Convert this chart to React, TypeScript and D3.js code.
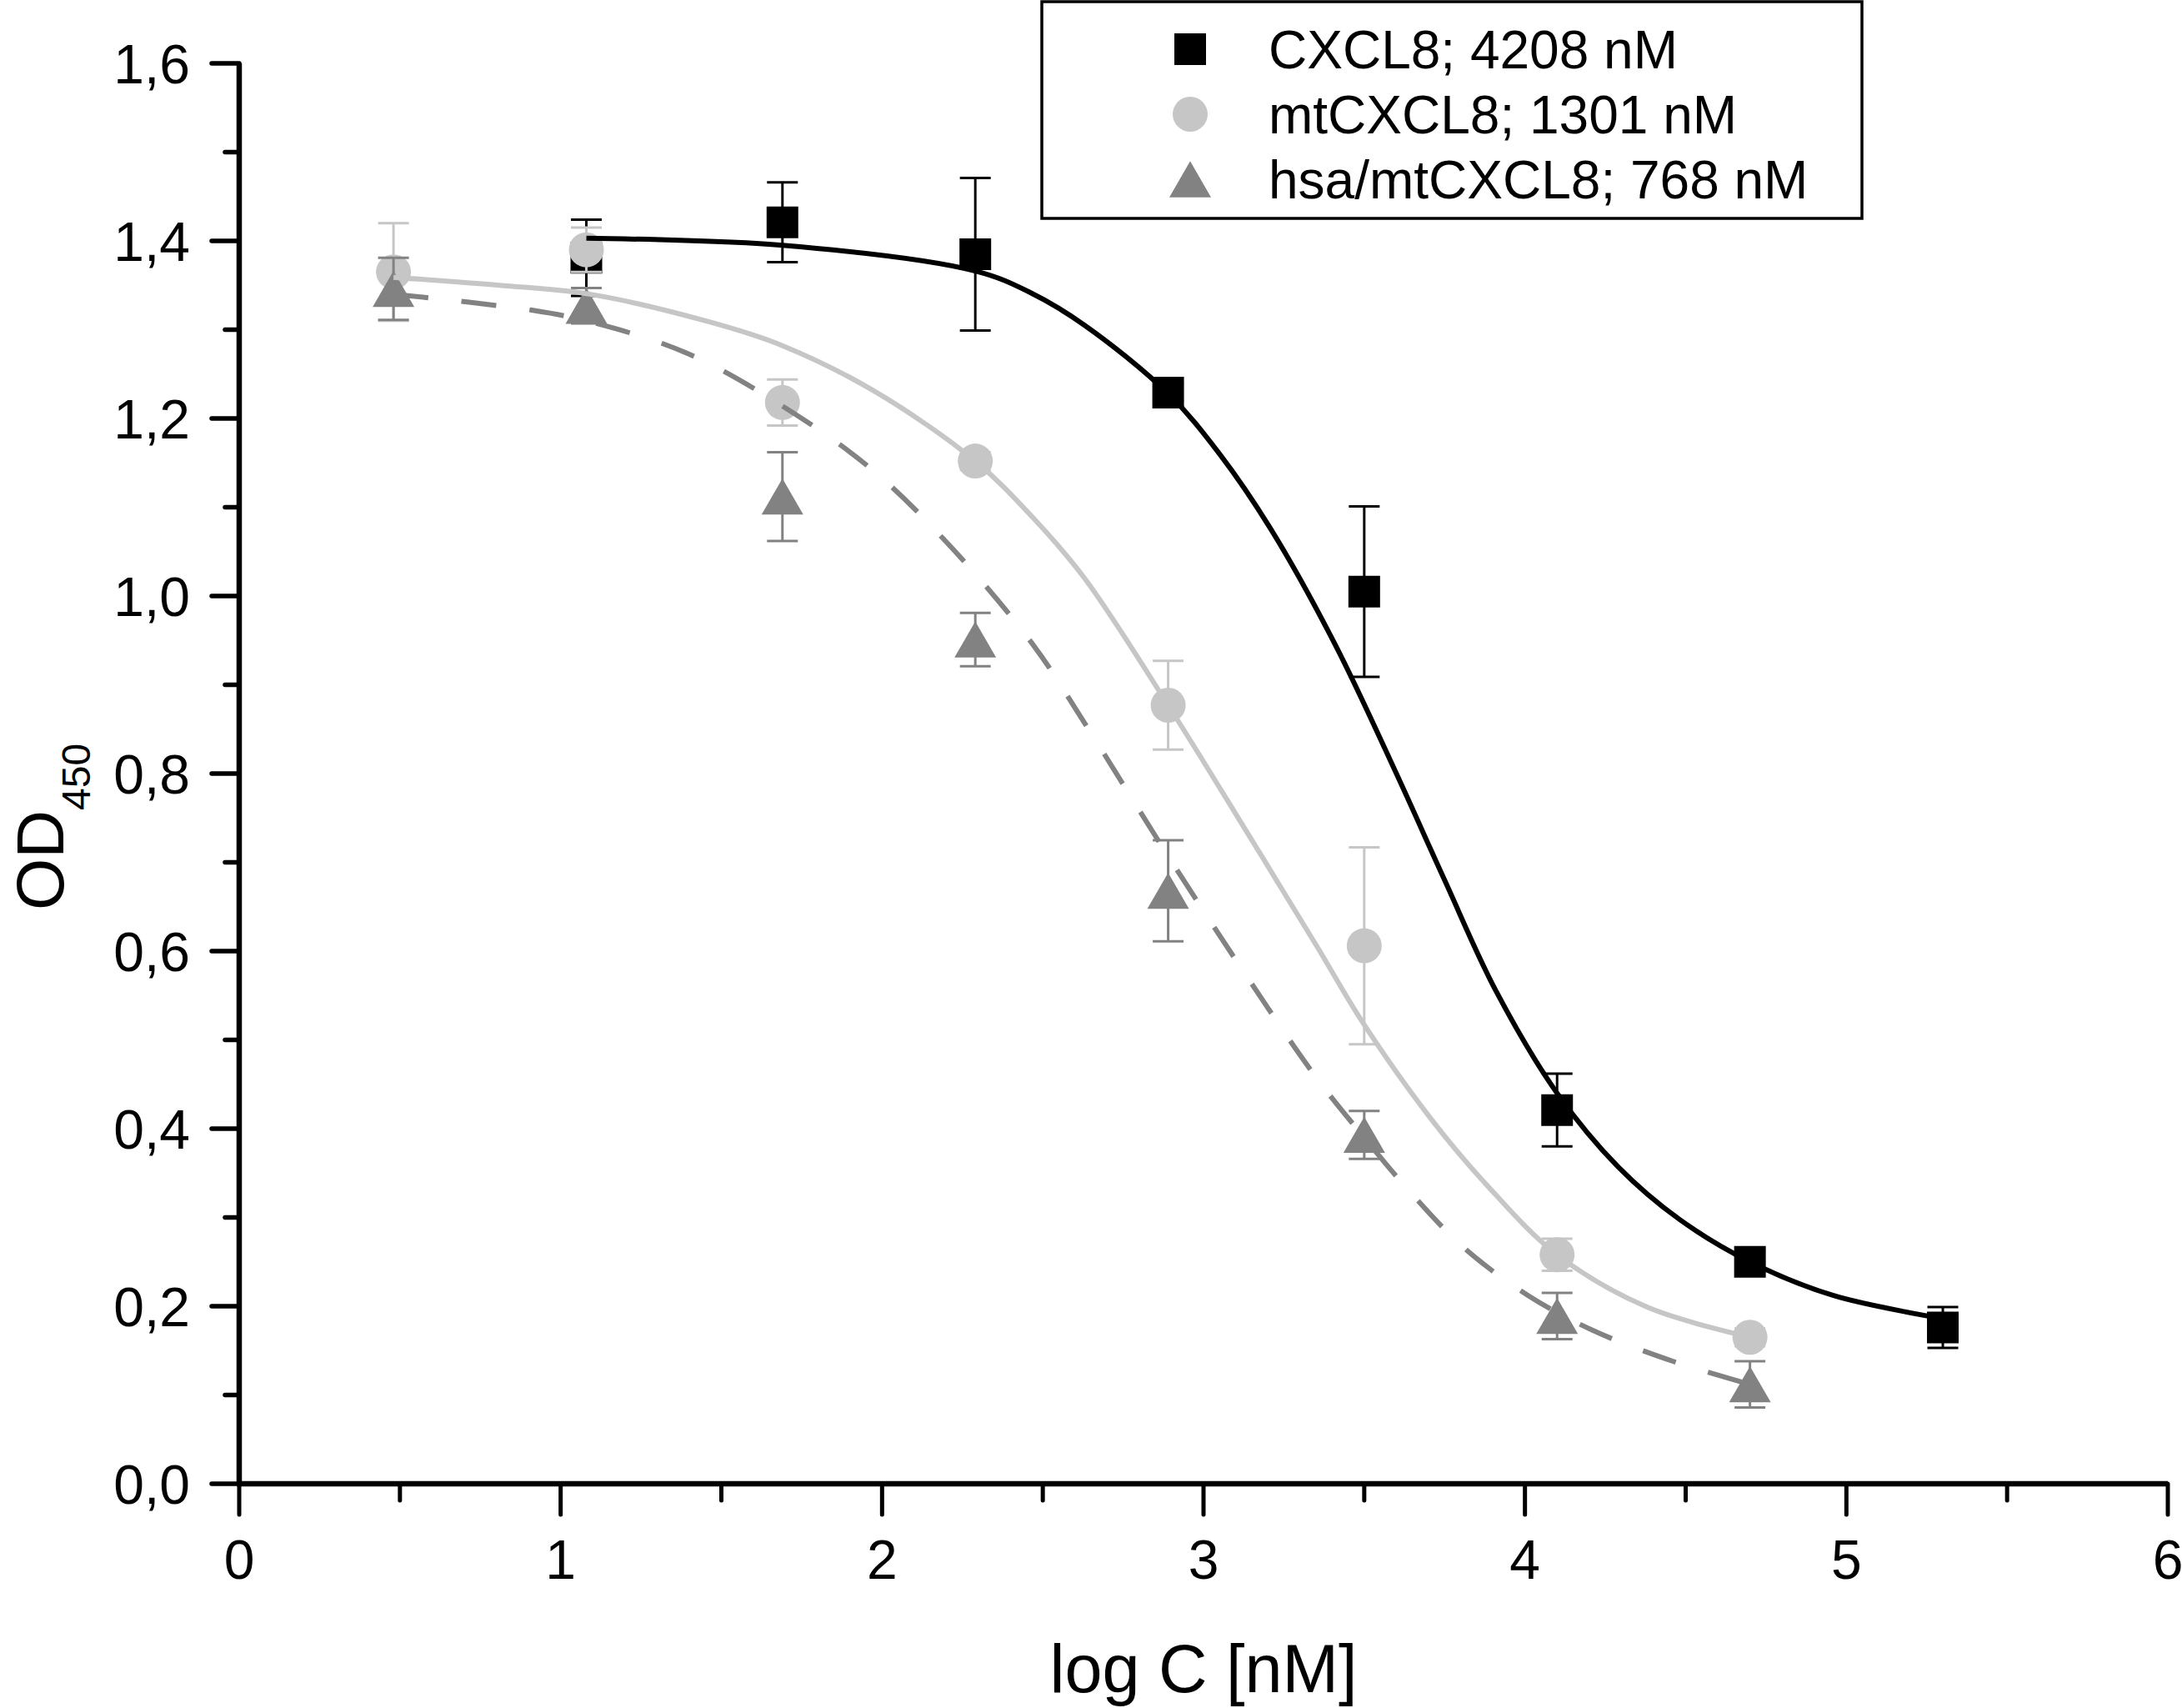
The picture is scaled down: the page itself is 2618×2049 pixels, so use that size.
import React from "react";
import * as d3 from "d3";

// ---- Data ----
const cxcl8X = [1.08, 1.69, 2.29, 2.89, 3.5, 4.1, 4.7, 5.3];
const cxcl8Y = [1.381, 1.421, 1.385, 1.229, 1.005, 0.421, 0.25, 0.176];
const cxcl8Err = [0.043, 0.045, 0.086, 0.01, 0.096, 0.041, 0.012, 0.023];

const mtX = [0.48, 1.08, 1.69, 2.29, 2.89, 3.5, 4.1, 4.7];
const mtY = [1.365, 1.39, 1.218, 1.152, 0.877, 0.606, 0.258, 0.165];
const mtErr = [0.055, 0.025, 0.026, 0.01, 0.05, 0.111, 0.018, 0.01];

const hsaX = [0.48, 1.08, 1.69, 2.29, 2.89, 3.5, 4.1, 4.7];
const hsaY = [1.346, 1.327, 1.112, 0.951, 0.668, 0.393, 0.189, 0.112];
const hsaErr = [0.035, 0.02, 0.05, 0.03, 0.057, 0.027, 0.026, 0.026];

// Fitted curves
const cxcl8FitX = [1.08, 1.69, 2.29, 2.46, 2.63, 2.89, 3.05, 3.21, 3.41, 3.6, 3.75, 3.91, 4.1, 4.29, 4.48, 4.7, 4.96, 5.3];
const cxcl8FitY = [1.403, 1.395, 1.366, 1.342, 1.305, 1.228, 1.16, 1.075, 0.945, 0.8, 0.68, 0.555, 0.44, 0.357, 0.298, 0.25, 0.212, 0.186];

const mtFitX = [0.48, 0.81, 1.09, 1.47, 1.69, 1.97, 2.29, 2.47, 2.63, 2.89, 3.13, 3.35, 3.5, 3.71, 3.88, 4.1, 4.38, 4.7];
const mtFitY = [1.359, 1.35, 1.34, 1.308, 1.282, 1.232, 1.152, 1.088, 1.02, 0.877, 0.737, 0.607, 0.517, 0.41, 0.337, 0.258, 0.199, 0.165];

const hsaFitX = [0.48, 0.91, 1.09, 1.39, 1.69, 1.97, 2.22, 2.47, 2.63, 2.89, 3.13, 3.35, 3.5, 3.63, 3.81, 4.01, 4.21, 4.46, 4.7];
const hsaFitY = [1.34, 1.322, 1.309, 1.274, 1.214, 1.142, 1.053, 0.945, 0.857, 0.707, 0.574, 0.458, 0.39, 0.334, 0.266, 0.212, 0.173, 0.138, 0.112];

const legendLabels = ["CXCL8; 4208 nM", "mtCXCL8; 1301 nM", "hsa/mtCXCL8; 768 nM"];
const xMajorTicks = [0, 1, 2, 3, 4, 5, 6];
const yMajorTicks = [0, 0.2, 0.4, 0.6, 0.8, 1.0, 1.2, 1.4, 1.6];

const FONT = "'Liberation Sans', Arial, Helvetica, sans-serif";
const BLACK = "#000000";
const LIGHT = "#c6c6c6";
const DARK = "#828282";

const W = 2618;
const H = 2049;

const x = d3.scaleLinear().domain([0, 6]).range([287, 2601]);
const y = d3.scaleLinear().domain([0, 1.6]).range([1780, 76]);

const locale = d3.formatLocale({ decimal: ",", thousands: ".", grouping: [3], currency: ["", ""] });
const fmtY = locale.format(".1f");

const SQ_SIZE = 38 * 38;
const CIRC_SIZE = Math.PI * 21 * 21;
const TRI_SIDE = 50;
const TRI_SIZE = (Math.sqrt(3) / 4) * TRI_SIDE * TRI_SIDE;
const TRI_H = (Math.sqrt(3) / 2) * TRI_SIDE;

const squarePath = d3.symbol().type(d3.symbolSquare).size(SQ_SIZE)() as string;
const circlePath = d3.symbol().type(d3.symbolCircle).size(CIRC_SIZE)() as string;
const trianglePath = d3.symbol().type(d3.symbolTriangle).size(TRI_SIZE)() as string;

type Series = {
  xs: number[];
  ys: number[];
  errs: number[];
  color: string;
  path: string;
  dyOff: number;
};

const series: Series[] = [
  { xs: cxcl8X, ys: cxcl8Y, errs: cxcl8Err, color: BLACK, path: squarePath, dyOff: 0 },
  { xs: mtX, ys: mtY, errs: mtErr, color: LIGHT, path: circlePath, dyOff: 0 },
  { xs: hsaX, ys: hsaY, errs: hsaErr, color: DARK, path: trianglePath, dyOff: TRI_H / 6 },
];

const line = d3
  .line<[number, number]>()
  .x((d) => x(d[0]))
  .y((d) => y(d[1]))
  .curve(d3.curveCatmullRom.alpha(0.5));

const zip = (a: number[], b: number[]) => a.map((v, i) => [v, b[i]] as [number, number]);

const fits = [
  { d: line(zip(cxcl8FitX, cxcl8FitY)) as string, color: BLACK, dash: undefined as string | undefined },
  { d: line(zip(mtFitX, mtFitY)) as string, color: LIGHT, dash: undefined as string | undefined },
  { d: line(zip(hsaFitX, hsaFitY)) as string, color: DARK, dash: "42 40" },
];

const CAP = 18.5;

export default function App() {
  const xMinor = d3.range(0.5, 6, 1);
  const yMinor = d3.range(0.1, 1.6, 0.2);
  const x0 = x(0);
  const y0 = y(0);

  return (
    <svg
      width={W}
      height={H}
      viewBox={`0 0 ${W} ${H}`}
      style={{ position: "absolute", left: 0, top: 0, background: "#fff" }}
      fontFamily={FONT}
    >
      <rect x={0} y={0} width={W} height={H} fill="#fff" />

      {/* data: error bars + markers */}
      {series.map((s, si) => (
        <g key={si}>
          {s.xs.map((xv, i) => {
            const px = x(xv);
            const top = y(s.ys[i] + s.errs[i]);
            const bot = y(s.ys[i] - s.errs[i]);
            return (
              <g key={i} stroke={s.color} strokeWidth={3}>
                <line x1={px} x2={px} y1={top} y2={bot} />
                <line x1={px - CAP} x2={px + CAP} y1={top} y2={top} />
                <line x1={px - CAP} x2={px + CAP} y1={bot} y2={bot} />
              </g>
            );
          })}
          {s.xs.map((xv, i) => (
            <path
              key={"m" + i}
              d={s.path}
              fill={s.color}
              transform={`translate(${x(xv)},${y(s.ys[i]) + s.dyOff})`}
            />
          ))}
        </g>
      ))}

      {/* fitted curves */}
      {fits.map((f, i) => (
        <path key={i} d={f.d} fill="none" stroke={f.color} strokeWidth={6} strokeDasharray={f.dash} />
      ))}

      {/* axes */}
      <g stroke="#000" strokeLinecap="round">
        <line x1={x0} x2={x0} y1={y(1.6)} y2={y0} strokeWidth={6.5} strokeLinecap="butt" />
        <line x1={x0 - 3} x2={x(6)} y1={y0} y2={y0} strokeWidth={6.5} strokeLinecap="butt" />
        {yMajorTicks.map((t) => (
          <line key={"ym" + t} x1={x0 - 33} x2={x0} y1={y(t)} y2={y(t)} strokeWidth={5.5} />
        ))}
        {yMinor.map((t) => (
          <line key={"yn" + t} x1={x0 - 17} x2={x0} y1={y(t)} y2={y(t)} strokeWidth={5.5} />
        ))}
        {xMajorTicks.map((t) => (
          <line key={"xm" + t} x1={x(t)} x2={x(t)} y1={y0} y2={y0 + 37} strokeWidth={5} />
        ))}
        {xMinor.map((t) => (
          <line key={"xn" + t} x1={x(t)} x2={x(t)} y1={y0} y2={y0 + 20} strokeWidth={5} />
        ))}
      </g>

      {/* tick labels */}
      <g fontSize={66} fill="#000">
        {yMajorTicks.map((t) => (
          <text key={"yl" + t} x={228} y={y(t)} dy="0.36em" textAnchor="end">
            {fmtY(t)}
          </text>
        ))}
        {xMajorTicks.map((t) => (
          <text key={"xl" + t} x={x(t)} y={1894} textAnchor="middle">
            {String(t)}
          </text>
        ))}
      </g>

      {/* axis titles */}
      <text x={(x(0) + x(6)) / 2} y={2030} textAnchor="middle" fontSize={81} fill="#000">
        log C [nM]
      </text>
      <text transform="translate(76,1092) rotate(-90)" fontSize={80} fill="#000">
        OD
        <tspan fontSize={48} dy={32}>
          450
        </tspan>
      </text>

      {/* legend */}
      <rect x={1250} y={2} width={984} height={260} fill="#fff" stroke="#000" strokeWidth={3.5} />
      {series.map((s, i) => {
        const cy = 59 + i * 78;
        return (
          <g key={"lg" + i}>
            <path d={s.path} fill={s.color} transform={`translate(1428,${cy + s.dyOff})`} />
            <text x={1522} y={cy + 23} fontSize={64} fill="#000">
              {legendLabels[i]}
            </text>
          </g>
        );
      })}
    </svg>
  );
}
